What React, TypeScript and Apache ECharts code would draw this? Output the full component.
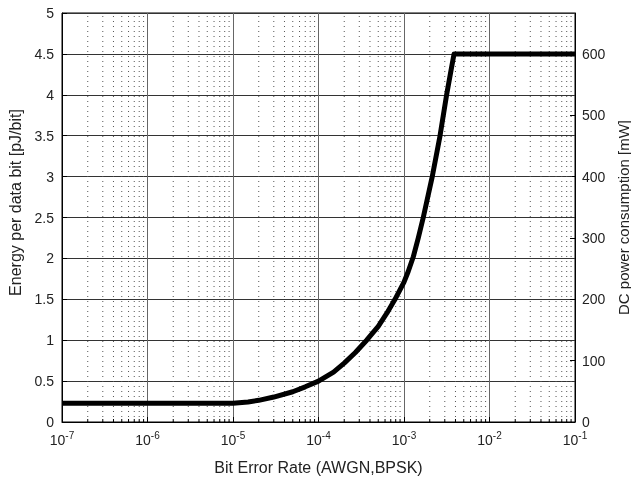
import React, { useEffect, useRef } from "react";
import * as echarts from "echarts";

const berValues = [1e-7, 1e-6, 1e-5, 1.5e-5, 2e-5, 3e-5, 5e-5, 7e-5, 1e-4, 1.5e-4, 2e-4, 2.7e-4, 3.66e-4, 5e-4, 6.3e-4, 7.85e-4, 1e-3, 1.12e-3, 1.285e-3, 1.47e-3, 1.68e-3, 2.14e-3, 2.64e-3, 3.15e-3, 3.55e-3, 3.85e-3, 1e-2, 1e-1];
const energyValues = [0.23, 0.23, 0.23, 0.245, 0.265, 0.305, 0.37, 0.43, 0.5, 0.61, 0.72, 0.85, 1.0, 1.17, 1.33, 1.5, 1.71, 1.84, 2.02, 2.25, 2.5, 3.0, 3.5, 4.0, 4.3, 4.5, 4.5, 4.5];
const decadeExponents = [-7, -6, -5, -4, -3, -2, -1];
const minorMultipliers = [2, 3, 4, 5, 6, 7, 8, 9];

const FONT = "'Liberation Sans', Arial, sans-serif";
const TXT = "#222";

export default function App() {
  const ref = useRef<HTMLDivElement>(null);
  useEffect(() => {
    if (!ref.current) return;
    const chart = echarts.init(ref.current, null, { renderer: "svg" });
    const minorValues: number[][] = [];
    for (let i = 0; i < decadeExponents.length - 1; i++) {
      for (const m of minorMultipliers) minorValues.push([m * Math.pow(10, decadeExponents[i]), 0]);
    }
    const lineData = berValues.map((b, i) => [b, energyValues[i]]);
    const option: any = {
      animation: false,
      grid: {
        left: 62,
        right: 56,
        top: 13,
        bottom: 58,
        containLabel: false,
        outerBoundsMode: "none",
        show: true,
        borderColor: "#000",
        borderWidth: 1,
        backgroundColor: "#fff",
      },
      xAxis: {
        type: "log",
        logBase: 10,
        min: 1e-7,
        max: 1e-1,
        name: "Bit Error Rate (AWGN,BPSK)",
        nameLocation: "middle",
        nameGap: 37,
        nameTextStyle: { fontFamily: FONT, fontSize: 16, color: TXT },
        axisLine: { show: true, lineStyle: { color: "#000" } },
        axisTick: { show: true, inside: true, length: 5, lineStyle: { color: "#000" } },
        axisLabel: {
          margin: 8,
          formatter: (v: number) => `{b|10}{s|${Math.round(Math.log10(v))}}`,
          rich: {
            b: { fontFamily: FONT, fontSize: 14, color: TXT },
            s: { fontFamily: FONT, fontSize: 10, color: TXT, padding: [0, 0, 9, 0] },
          },
        },
        splitLine: { show: true, lineStyle: { color: "#666", width: 1 } },
      },
      yAxis: [
        {
          type: "value",
          min: 0,
          max: 5,
          interval: 0.5,
          name: "Energy per data bit [pJ/bit]",
          nameLocation: "middle",
          nameGap: 36,
          nameRotate: 90,
          nameTextStyle: { fontFamily: FONT, fontSize: 16, color: TXT, padding: [0, 0, 0, 30] },
          axisLine: { show: true, lineStyle: { color: "#000" } },
          axisTick: { show: true, inside: true, length: 5, lineStyle: { color: "#000" } },
          axisLabel: { margin: 8, fontFamily: FONT, fontSize: 14, color: TXT, formatter: (v: number) => String(v) },
          splitLine: { show: true, lineStyle: { color: "#333", width: 1 } },
        },
        {
          type: "value",
          position: "right",
          min: 0,
          max: 2000 / 3,
          interval: 100,
          name: "DC power consumption [mW]",
          nameLocation: "middle",
          nameGap: 32,
          nameRotate: 90,
          nameTextStyle: { fontFamily: FONT, fontSize: 15, color: TXT },
          axisLine: { show: true, lineStyle: { color: "#000" } },
          axisTick: { show: true, inside: true, length: 5, lineStyle: { color: "#000" } },
          axisLabel: {
            margin: 7,
            fontFamily: FONT,
            fontSize: 14,
            color: TXT,
            showMaxLabel: false,
            formatter: (v: number) => (v > 600.5 ? "" : String(Math.round(v))),
          },
          splitLine: { show: false },
        },
      ],
      series: [
        {
          type: "custom",
          xAxisIndex: 0,
          yAxisIndex: 0,
          silent: true,
          z: 1,
          data: minorValues,
          encode: { x: 0, y: 1 },
          renderItem: (params: any, api: any) => {
            const x = api.value(0);
            const p1 = api.coord([x, 0]);
            const p2 = api.coord([x, 5]);
            return {
              type: "group",
              children: [
                {
                  type: "line",
                  shape: { x1: p1[0], y1: p1[1], x2: p2[0], y2: p2[1] },
                  style: { stroke: "#555", lineWidth: 1, lineDash: [1, 4] },
                },
                {
                  type: "line",
                  shape: { x1: p1[0], y1: p1[1], x2: p1[0], y2: p1[1] - 3 },
                  style: { stroke: "#000", lineWidth: 1 },
                },
              ],
            };
          },
        },
        {
          type: "line",
          xAxisIndex: 0,
          yAxisIndex: 0,
          z: 5,
          data: lineData,
          showSymbol: false,
          symbol: "none",
          smooth: false,
          lineStyle: { color: "#000", width: 5, join: "round" },
        },
      ],
    };
    chart.setOption(option);
    return () => chart.dispose();
  }, []);
  return <div ref={ref} style={{ position: "fixed", left: 0, top: 0, width: 631, height: 480 }} />;
}
